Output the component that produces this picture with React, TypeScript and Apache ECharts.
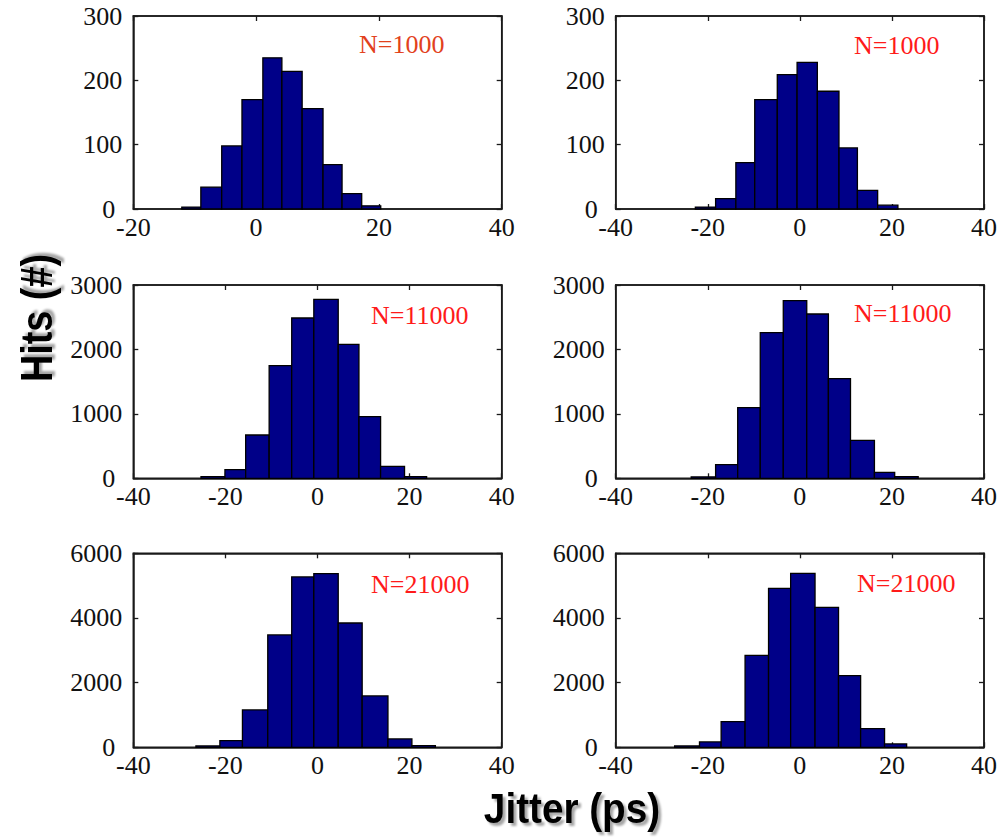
import React, { useEffect, useRef } from "react";
import * as echarts from "echarts";

// ---- data (bin edges in ps, counts in hits) ----
const edges1 = [-12.1, -9.0, -5.6, -2.3, 1.1, 4.2, 7.5, 10.9, 14.0, 17.2, 20.3];
const counts1 = [3, 34, 98, 170, 235, 214, 156, 69, 24, 5];
const edges2 = [-22.7, -18.3, -13.9, -9.8, -4.9, -0.6, 3.8, 8.5, 12.5, 16.9, 21.3];
const counts2 = [3, 16, 72, 170, 209, 228, 183, 95, 29, 6];
const edges3 = [-25.3, -20.1, -15.6, -10.5, -5.6, -0.8, 4.5, 9.0, 13.7, 18.9, 23.7];
const counts3 = [26, 134, 672, 1748, 2488, 2778, 2080, 957, 186, 26];
const edges4 = [-23.6, -18.3, -13.5, -8.6, -3.6, 1.5, 6.2, 11.0, 16.2, 20.6, 25.7];
const counts4 = [21, 212, 1097, 2261, 2757, 2550, 1547, 590, 93, 25];
const edges5 = [-26.4, -21.2, -16.3, -10.8, -5.6, -0.8, 4.5, 9.7, 15.3, 20.5, 25.6];
const counts5 = [41, 206, 1155, 3474, 5268, 5371, 3845, 1588, 258, 52];
const edges6 = [-27.2, -21.8, -17.1, -11.9, -6.8, -2.0, 3.3, 8.4, 13.2, 18.4, 23.2];
const counts6 = [41, 165, 794, 2845, 4918, 5381, 4330, 2216, 577, 103];

const xMins = [-20, -40, -40, -40, -40, -40];
const xMax = 40;
const xInterval = 20;
const yMaxes = [300, 300, 3000, 3000, 6000, 6000];
const yIntervals = [100, 100, 1000, 1000, 2000, 2000];
const nLabels = ["N=1000", "N=1000", "N=11000", "N=11000", "N=21000", "N=21000"];
const yTitle = "Hits (#)";
const xTitle = "Jitter (ps)";

const allEdges = [edges1, edges2, edges3, edges4, edges5, edges6];
const allCounts = [counts1, counts2, counts3, counts4, counts5, counts6];

// ---- layout / style ----
const grids = [
  { left: 133.3, top: 16, width: 368.4, height: 193 },
  { left: 615.7, top: 16, width: 370.3, height: 193 },
  { left: 133.3, top: 285, width: 368.4, height: 193.3 },
  { left: 615.7, top: 285, width: 370.3, height: 193.3 },
  { left: 133.3, top: 553.3, width: 368.4, height: 194 },
  { left: 615.7, top: 553.3, width: 370.3, height: 194 },
];
const nPos = [
  [359, 44],
  [854, 45],
  [371, 315],
  [854, 313],
  [371, 584],
  [857, 583],
];
const nColors = ["#e2411c", "#ff1a1a", "#ff1a1a", "#ff1a1a", "#ff1a1a", "#ff1a1a"];
const BAR = "#000088";
const AXIS = "#1a1a1a";
const SERIF = "'Liberation Serif', 'Times New Roman', serif";
const SANS = "'Liberation Sans', Arial, sans-serif";

const labelStyle = {
  show: true,
  fontFamily: SERIF,
  fontSize: 26,
  fontWeight: "normal",
  lineHeight: 18,
  color: "#111",
  showMinLabel: true,
  showMaxLabel: true,
};

function buildOption() {
  const xAxis: any[] = [];
  const yAxis: any[] = [];
  const series: any[] = [];
  grids.forEach((g, i) => {
    const common = {
      type: "value",
      gridIndex: i,
      splitLine: { show: false },
      axisLine: { show: true, onZero: false, lineStyle: { color: AXIS, width: 1.5 } },
      axisTick: { show: true, inside: true, length: 5, lineStyle: { color: AXIS, width: 1.3 } },
    };
    xAxis.push({
      ...common,
      position: "bottom",
      min: xMins[i],
      max: xMax,
      interval: xInterval,
      axisLabel: { ...labelStyle, margin: 9, formatter: (v: number) => String(v) },
    });
    xAxis.push({
      ...common,
      position: "top",
      min: xMins[i],
      max: xMax,
      interval: xInterval,
      axisLabel: { show: false },
    });
    yAxis.push({
      ...common,
      position: "left",
      min: 0,
      max: yMaxes[i],
      interval: yIntervals[i],
      axisLabel: {
        ...labelStyle,
        margin: 11,
        formatter: (v: number) => (v === 0 ? "{z|0}" : String(v)),
        rich: {
          z: {
            fontFamily: SERIF,
            fontSize: 26,
            color: "#111",
            lineHeight: 18,
            padding: [0, 7, 0, 0],
          },
        },
      },
    });
    yAxis.push({
      ...common,
      position: "right",
      min: 0,
      max: yMaxes[i],
      interval: yIntervals[i],
      axisLabel: { show: false },
    });
    const edges = allEdges[i];
    const data = allCounts[i].map((c, k) => [edges[k], edges[k + 1], c]);
    series.push({
      type: "custom",
      xAxisIndex: 2 * i,
      yAxisIndex: 2 * i,
      encode: { x: [0, 1], y: 2 },
      data,
      renderItem: (params: any, api: any) => {
        const a = api.coord([api.value(0), api.value(2)]);
        const b = api.coord([api.value(1), 0]);
        return {
          type: "rect",
          shape: { x: a[0], y: a[1], width: b[0] - a[0], height: b[1] - a[1] },
          style: { fill: BAR, stroke: "#000", lineWidth: 1.3 },
        };
      },
    });
  });

  const graphic: any[] = nLabels.map((t, i) => ({
    type: "text",
    x: nPos[i][0],
    y: nPos[i][1],
    style: {
      text: t,
      font: `26px ${SERIF}`,
      fill: nColors[i],
      textAlign: "left",
      textVerticalAlign: "middle",
    },
  }));
  graphic.push({
    type: "text",
    x: 37,
    y: 318,
    rotation: Math.PI / 2,
    scaleX: 0.86,
    style: {
      text: yTitle,
      font: `bold 44px ${SANS}`,
      fill: "#000",
      textAlign: "center",
      textVerticalAlign: "middle",
      textShadowColor: "rgba(0,0,0,0.35)",
      textShadowOffsetX: 3,
      textShadowOffsetY: 3,
      textShadowBlur: 2,
    },
  });
  graphic.push({
    type: "text",
    x: 572,
    y: 808,
    scaleX: 0.9,
    style: {
      text: xTitle,
      font: `bold 43px ${SANS}`,
      fill: "#000",
      textAlign: "center",
      textVerticalAlign: "middle",
      textShadowColor: "rgba(0,0,0,0.35)",
      textShadowOffsetX: 3,
      textShadowOffsetY: 3,
      textShadowBlur: 2,
    },
  });

  return {
    animation: false,
    backgroundColor: "#fff",
    textStyle: { fontFamily: SERIF },
    grid: grids.map((g) => ({
      ...g,
      show: true,
      borderColor: AXIS,
      borderWidth: 1.5,
      backgroundColor: "#fff",
      containLabel: false,
    })),
    xAxis,
    yAxis,
    series,
    graphic,
  };
}

export default function App() {
  const ref = useRef<HTMLDivElement>(null);
  useEffect(() => {
    if (!ref.current) return;
    const chart = echarts.init(ref.current, undefined, { renderer: "svg" });
    chart.setOption(buildOption() as any);
    return () => chart.dispose();
  }, []);
  return (
    <div
      ref={ref}
      style={{ position: "absolute", left: 0, top: 0, width: 1000, height: 837, background: "#fff" }}
    />
  );
}
